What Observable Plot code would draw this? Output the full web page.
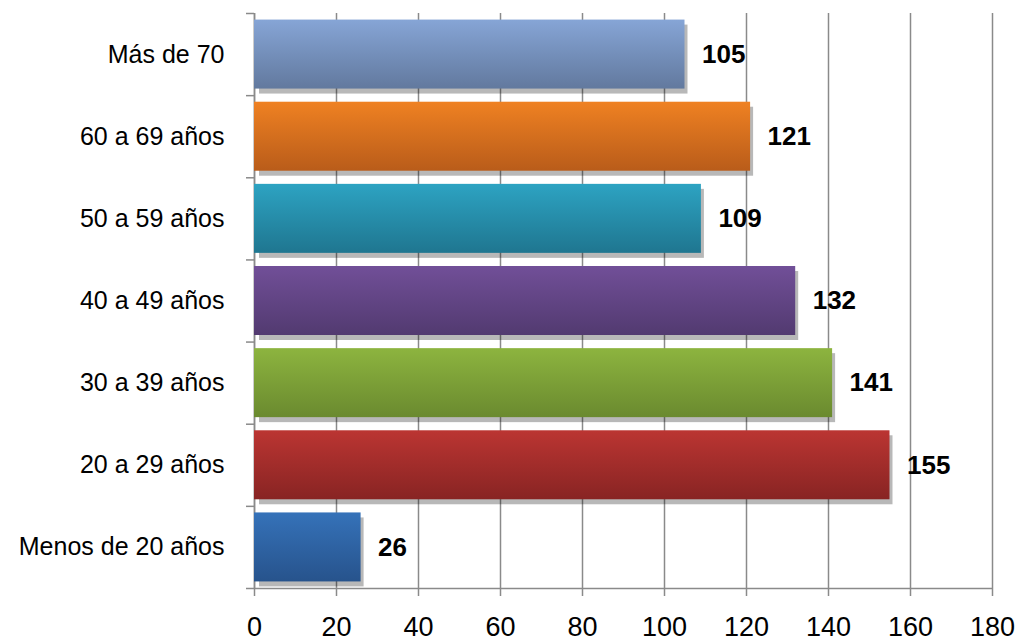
<!DOCTYPE html>
<html>
<head>
<meta charset="utf-8">
<script src="https://cdn.jsdelivr.net/npm/d3@7"></script>
<script src="https://cdn.jsdelivr.net/npm/@observablehq/plot@0.6"></script>
<style>
  html, body { margin: 0; padding: 0; background: #fff; }
  #chart svg { display: block; }
  g[aria-label="shadow"] { filter: blur(2.5px); }
</style>
</head>
<body>
<div id="chart"></div>
<script>
// Data (top to bottom as shown)
const categories = ["Más de 70", "60 a 69 años", "50 a 59 años", "40 a 49 años", "30 a 39 años", "20 a 29 años", "Menos de 20 años"];
const values = [105, 121, 109, 132, 141, 155, 26];
const topColors = ["#86a5d6", "#ef8122", "#2da3c2", "#714f98", "#8db43f", "#bb3532", "#3572b9"];
const bottomColors = ["#62799e", "#b95c1a", "#1f7690", "#523a70", "#6a8a2f", "#882423", "#27538c"];
const xTicks = [0, 20, 40, 60, 80, 100, 120, 140, 160, 180];

const rows = categories.map((c, i) => ({
  cat: c, i, value: values[i], grad: `url(#grad${i})`
}));

const font = "'Liberation Sans Narrow', 'Arial Narrow', 'Liberation Sans', Arial, sans-serif";
const pad = 0.08;

const chart = Plot.plot({
  width: 1016,
  height: 641,
  marginTop: 13,
  marginBottom: 53,
  marginLeft: 254,
  marginRight: 24,
  style: { fontFamily: font, fontSize: "26px", color: "#000", background: "#fff", overflow: "visible" },
  x: { domain: [0, 180], axis: null, label: null },
  y: { domain: [0, 7], reverse: true, axis: null, label: null },
  color: { type: "identity" },
  marks: [
    Plot.gridX(xTicks, { stroke: "#8a8a8a", strokeOpacity: 1, strokeWidth: 1.5 }),
    Plot.axisX({ ticks: xTicks, tickSize: 8, tickPadding: 20, label: null, stroke: "#8a8a8a", strokeWidth: 1.5, fontSize: 27, fill: "#000" }),
    Plot.axisY({ ticks: d3.range(categories.length + 1), tickSize: 8, label: null, tickFormat: () => "", stroke: "#8a8a8a", strokeWidth: 1.5 }),
    Plot.axisY({ ticks: categories.map((c, i) => i + 0.5), tickSize: 0, tickPadding: 30, label: null, tickFormat: t => categories[Math.floor(t)], fontSize: 25, fill: "#000" }),
    Plot.ruleY([categories.length], { stroke: "#8a8a8a", strokeWidth: 1.5 }),
    Plot.ruleX([0], { stroke: "#8a8a8a", strokeWidth: 1.5 }),
    Plot.rectX(rows, { x1: 0, x2: "value", y1: d => d.i + pad, y2: d => d.i + 1 - pad, fill: "#000", fillOpacity: 0.28, dx: 3, dy: 5, ariaLabel: "shadow", insetLeft: 2 }),
    Plot.rectX(rows, { x1: 0, x2: "value", y1: d => d.i + pad, y2: d => d.i + 1 - pad, fill: "grad", ariaLabel: "bars" }),
    Plot.text(rows, { x: "value", y: d => d.i + 0.5, text: d => String(d.value), dx: 17, textAnchor: "start", fontWeight: "bold", fontSize: 26, fill: "#000" })
  ]
});

// gradient definitions for the bar fills
const svg = d3.select(chart);
const defs = svg.insert("defs", ":first-child");
categories.forEach((c, i) => {
  const g = defs.append("linearGradient").attr("id", `grad${i}`).attr("x1", 0).attr("y1", 0).attr("x2", 0).attr("y2", 1);
  g.append("stop").attr("offset", "0%").attr("stop-color", topColors[i]);
  g.append("stop").attr("offset", "100%").attr("stop-color", bottomColors[i]);
});

document.getElementById("chart").appendChild(chart);
</script>
</body>
</html>
